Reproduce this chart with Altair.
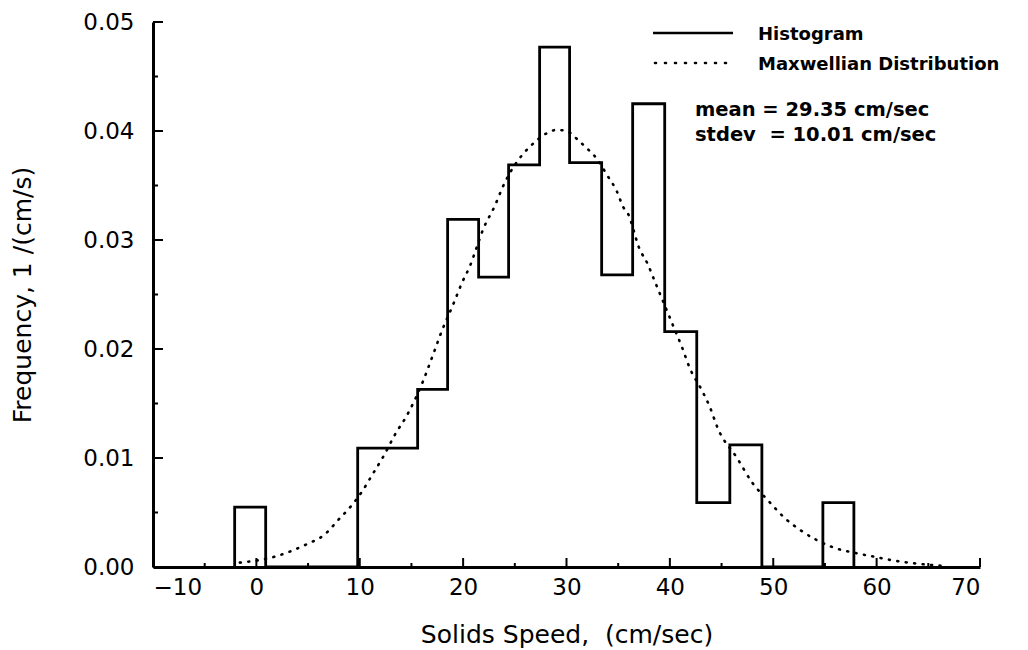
import altair as alt
import pandas as pd

# ---- data ----
bin_edges = [-2.1, 0.9, 9.8, 12.7, 15.6, 18.5, 21.5, 24.4, 27.4, 30.3, 33.4,
             36.4, 39.5, 42.6, 45.8, 48.9, 54.8, 57.8]
bin_heights = [0.0055, 0.0, 0.0109, 0.0109, 0.0163, 0.0319, 0.0266, 0.0369,
               0.0477, 0.0371, 0.0268, 0.0425, 0.0216, 0.0059, 0.0112, 0.0,
               0.0059]

curve_x = [-1.6, 1.6, 3.2, 4.9, 6.5, 8.1, 8.9, 10.2, 11.3, 12.2, 13.5, 14.5,
           16.1, 17.1, 18.0, 19.0, 19.9, 20.7, 21.3, 21.9, 23.1, 23.8, 25.8,
           26.5, 28.1, 29.0, 30.0, 31.3, 32.1, 32.9, 33.9, 34.9, 35.5, 35.9,
           37.1, 37.8, 38.5, 40.2, 41.2, 41.9, 43.1, 43.9, 44.6, 46.5, 48.0,
           49.5, 51.1, 52.6, 55.8, 58.4, 60.0, 61.6, 64.0, 66.5]
curve_y = [0.0004, 0.0009, 0.0014, 0.0021, 0.0029, 0.0045, 0.0053, 0.0069,
           0.0086, 0.0100, 0.0123, 0.0138, 0.0170, 0.0195, 0.0218, 0.0240,
           0.0261, 0.0277, 0.0293, 0.0309, 0.0332, 0.0348, 0.0379, 0.0386,
           0.0398, 0.0401, 0.0400, 0.0390, 0.0383, 0.0375, 0.0360, 0.0344,
           0.0330, 0.0325, 0.0291, 0.0279, 0.0263, 0.0224, 0.0201, 0.0183,
           0.0162, 0.0146, 0.0128, 0.0100, 0.0077, 0.0061, 0.0045, 0.0034,
           0.0018, 0.0012, 0.0009, 0.0006, 0.0003, 0.0001]

x_major = [-10, 0, 10, 20, 30, 40, 50, 60, 70]
x_minor = [-5, 5, 15, 25, 35, 45, 55, 65]
y_major = [0.00, 0.01, 0.02, 0.03, 0.04, 0.05]
y_minor = [0.005, 0.015, 0.025, 0.035, 0.045]

legend_labels = ["Histogram", "Maxwellian Distribution"]
stats_labels = ["mean = 29.35 cm/sec", "stdev \u00a0= 10.01 cm/sec"]
x_title = "Solids Speed, \u00a0(cm/sec)"
y_title = "Frequency, 1 /(cm/s)"

# ---- build tables ----
step_x = [bin_edges[0]] + bin_edges[:-1] + [bin_edges[-1]]
step_y = [0.0] + bin_heights + [0.0]
hist_df = pd.DataFrame({"x": step_x, "y": step_y, "i": range(len(step_x))})
curve_df = pd.DataFrame({"x": curve_x, "y": curve_y})

W, H = 827, 545
FONT = "DejaVu Sans"

xscale = alt.Scale(domain=[-10, 70], nice=False, zero=False)
yscale = alt.Scale(domain=[0, 0.05], nice=False)

xaxis = alt.Axis(values=x_major, format="d", title=x_title, titleY=67,
                 titleBaseline="middle", labelPadding=9)
yaxis = alt.Axis(values=y_major, format=".2f", title=y_title, titleX=-131,
                 titleY=H / 2, titleAngle=-90, titleAlign="center",
                 titleBaseline="middle", labelPadding=19)

hist = alt.Chart(hist_df).mark_line(
    interpolate="step-after", color="black", strokeWidth=2.8
).encode(
    x=alt.X("x:Q", scale=xscale, axis=xaxis),
    y=alt.Y("y:Q", scale=yscale, axis=yaxis),
    order=alt.Order("i:Q"),
)

curve = alt.Chart(curve_df).mark_line(
    color="black", strokeWidth=2.6, strokeDash=[1, 7.5], strokeCap="round",
    interpolate="monotone"
).encode(
    x=alt.X("x:Q", scale=xscale),
    y=alt.Y("y:Q", scale=yscale),
)

def xticks(vals, length):
    return alt.Chart(pd.DataFrame({"v": vals})).mark_rule(
        color="black", strokeWidth=2
    ).encode(
        x=alt.X("v:Q", scale=xscale),
        y=alt.value(H), y2=alt.value(H - length),
    )

def yticks(vals, length):
    return alt.Chart(pd.DataFrame({"v": vals})).mark_rule(
        color="black", strokeWidth=2
    ).encode(
        y=alt.Y("v:Q", scale=yscale),
        x=alt.value(0), x2=alt.value(length),
    )

one = alt.Data(values=[{}])

leg_solid = alt.Chart(one).mark_rule(color="black", strokeWidth=2.5).encode(
    x=alt.value(500), x2=alt.value(580), y=alt.value(11))
leg_dot = alt.Chart(one).mark_rule(
    color="black", strokeWidth=2.6, strokeDash=[1, 9], strokeCap="round"
).encode(x=alt.value(502), x2=alt.value(582), y=alt.value(41))

def label(txt, x, y, size, weight="bold"):
    return alt.Chart(one).mark_text(
        align="left", baseline="middle", font=FONT, fontSize=size,
        fontWeight=weight, color="black"
    ).encode(x=alt.value(x), y=alt.value(y), text=alt.value(txt))

layers = [
    hist, curve,
    xticks(x_major, 9), xticks(x_minor, 4),
    yticks(y_major, 10), yticks(y_minor, 5),
    leg_solid, leg_dot,
    label(legend_labels[0], 605, 13, 18),
    label(legend_labels[1], 605, 43, 18),
    label(stats_labels[0], 542, 88, 19.5),
    label(stats_labels[1], 542, 113, 19.5),
]

chart = alt.layer(*layers).properties(
    width=W, height=H,
    autosize=alt.AutoSizeParams(type="none"),
    padding={"left": 153, "top": 22, "right": 48, "bottom": 83},
    background="white",
).configure_view(stroke=None).configure_axis(
    grid=False, ticks=False, domainColor="black", domainWidth=3,
    labelFont=FONT, labelFontSize=23, labelColor="black",
    titleFont=FONT, titleFontSize=25, titleFontWeight="normal",
    titleColor="black",
)

chart.save("out.html", embed_options={"renderer": "svg", "actions": False})
